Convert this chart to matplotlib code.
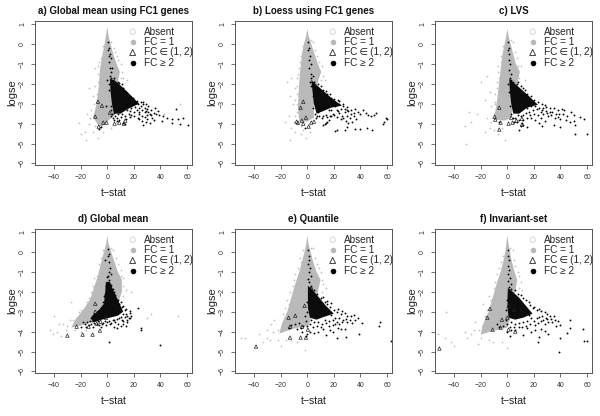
import numpy as np
import matplotlib
matplotlib.use('Agg')
import matplotlib.pyplot as plt

plt.rcParams['font.family'] = ['Liberation Sans', 'DejaVu Sans']

titles = ['a) Global mean using FC1 genes', 'b) Loess using FC1 genes', 'c) LVS',
          'd) Global mean', 'e) Quantile', 'f) Invariant-set']
legend_labels = ['Absent', 'FC = 1', 'FC\u2009\u2208\u2009(1,\u20092)', 'FC \u2265 2']
xticks = [-40, -20, 0, 20, 40, 60]
yticks = [1, 0, -1, -2, -3, -4, -5, -6]

# outlines of the dense FC = 1 clouds (t-stat, logse)
a_grey = [(0, .85), (1, .4), (2.5, 0), (4.5, -.5), (7, -1), (9.5, -1.4), (8, -1.9), (6, -2.4), (5, -3), (5, -3.6), (0, -3.9),
          (-5, -4.25), (-10.5, -3.7), (-8, -3), (-6.5, -2.2), (-5.5, -1.3), (-3.5, -.5), (-2, 0), (-.8, .5)]
b_grey = [(0, .75), (1, .4), (3, 0), (5.5, -.5), (8, -1), (10.5, -1.4), (8, -1.9), (6, -2.4), (5, -3), (5, -3.7), (0, -3.9),
          (-6, -3.9), (-7, -3.2), (-6.5, -2.4), (-5.5, -1.5), (-4, -.5), (-2.5, 0), (-.8, .4)]
c_grey = [(0, .75), (1, .4), (2.5, 0), (4.5, -.5), (6.5, -1), (9.5, -1.4), (8, -1.9), (6, -2.4), (4.5, -3), (3, -3.7), (-2, -3.85),
          (-10, -3.8), (-8, -3), (-6.5, -2.2), (-5, -1.3), (-3.5, -.5), (-2, 0), (-.8, .4)]
d_grey = [(0, .8), (1, .4), (3, 0), (5.5, -.5), (8, -1), (11, -1.4), (11, -2), (8, -2.6), (6, -3), (-10, -3.5), (-20, -3.7),
          (-27, -3.8), (-24, -3.4), (-18, -2.9), (-13, -2.4), (-10, -1.8), (-7, -1.2), (-4.5, -.5), (-2.5, 0), (-.8, .4)]
e_grey = [(0, .8), (1, .4), (2.5, 0), (4.5, -.5), (7, -1), (10, -1.4), (8, -2), (6, -2.5), (4, -3.1), (1, -3.7), (-10, -3.85),
          (-21, -4.1), (-19, -3.6), (-15, -3), (-12, -2.3), (-8.5, -1.5), (-6, -1), (-4, -.5), (-2, 0), (-.8, .4)]
f_grey = [(0, .8), (1, .4), (2, 0), (3.5, -.5), (5.5, -1), (7.5, -1.4), (6, -2), (4.5, -2.6), (3, -3.2), (0, -3.8), (-10, -3.95),
          (-20, -4.15), (-18, -3.6), (-14, -3), (-11, -2.3), (-7.5, -1.5), (-5, -1), (-3, -.5), (-1.5, 0), (-.7, .4)]

# outlines of the regions where FC >= 2 dots overplot completely
a_core = [(2, -1.75), (6, -1.85), (12, -2.2), (18, -2.6), (24, -3), (16, -3.25), (10, -3.5), (5, -3.5), (3.5, -3), (2.5, -2.4)]
b_core = [(3, -1.8), (6, -2), (12, -2.35), (18, -2.7), (26, -3.1), (18, -3.2), (11, -3.4), (7, -3.5), (5, -3), (4, -2.4)]
c_core = [(1.5, -1.75), (5, -1.95), (11, -2.3), (16, -2.6), (23, -3.05), (15, -3.2), (9, -3.5), (4.5, -3.5), (3, -3), (2, -2.4)]
d_core = [(-1, -1.5), (2, -1.5), (5, -2), (8, -2.4), (12, -3), (8, -3.2), (2, -3.3), (-4, -3.4), (-11, -3.55), (-12, -3.25),
          (-6, -2.9), (-2.5, -2.6), (-1.5, -2)]
e_core = [(.5, -1.7), (4, -1.9), (9, -2.3), (14, -2.7), (20, -3.1), (13, -3.25), (7, -3.4), (2, -3.3), (.5, -2.8), (.5, -2.3)]
f_core = [(.5, -1.8), (4, -2), (9, -2.3), (14, -2.7), (19, -3.1), (12, -3.3), (6, -3.4), (1, -3.3), (.2, -2.8), (.2, -2.3)]

# FC >= 2 dots
a_dots = [(.5, -.3), (1, -.2), (2, -.5), (2.5, -.7), (1.5, -.9), (2, -1.2), (3, -1.4), (2, -1.6), (3, -1.7), (.3, .1),
          (1, -.6), (3.5, -1.2), (4, -1.8), (5, -1.7), (8, -1.9), (12, -2.2), (14, -2.4), (17, -2.6), (19, -2.7),
          (21, -2.9), (23, -3), (25, -3.1), (28, -3.2), (30, -3.25), (33, -3.3), (36, -3.2), (37, -3.5), (39, -3.55),
          (42, -3.6), (41, -3.85), (45, -3.7), (49, -3.97), (49, -3.75), (53, -3.77), (57, -3.7), (61, -4.05), (55, -4.03),
          (51.5, -3.27), (18, -3.2), (20, -3.4), (22, -3.3), (24, -3.5), (26, -3.6), (28, -3.4), (30, -3.55), (32, -3.5),
          (34, -3.7), (26, -3.85), (27, -4.05), (29, -3.9), (32, -3.95), (35, -3.8), (15, -3.3), (16, -3.5), (13, -3.6),
          (11, -3.5), (8, -3.5), (6, -3.6), (4, -3.7), (9, -3.8), (13, -4), (12, -3.95), (5, -3.45), (7, -3.7), (19, -3),
          (22, -2.85), (25, -2.9), (27, -3), (3, -3.1), (3.5, -3.5), (15, -3), (17, -3.35), (24, -3.2), (31, -3.1), (-6, -4.25), (-5, -4.15),
          (20, -3.6), (23, -3.7), (18, -3.55), (21, -3.15), (26, -3.3), (29, -3.35), (31, -3.4), (33, -3.55), (35, -3.45), (38, -3.35),
          (15, -2.45), (11, -2), (9, -1.95), (24, -3.4), (14, -3.75), (10, -3.65), (7, -3.85), (5, -3.8), (3, -3.6), (2.5, -3.3),
          (17, -3.65), (28, -3.65), (30, -3.75), (24, -3.75), (27, -2.9), (29, -3), (-1, -3.1), (1, -2.3), (1.5, -2), (0, -1.8)]
b_dots = [(.3, .1), (.5, -.3), (1.5, -.2), (2, -.6), (1, -.8), (2.5, -1), (1.5, -1.2), (3, -1.5), (3, -1.7), (4, -1.6), (5, -1.9),
          (8, -2), (12, -2.3), (15, -2.5), (18, -2.7), (21, -2.9), (24, -3), (27, -3.1), (30, -3.15), (33, -3.3), (36, -3.25),
          (38, -3.4), (40, -3.5), (42, -3.3), (44, -3.45), (46, -3.55), (48, -3.6), (50, -3.55), (52, -3.45), (58, -3.9),
          (59, -3.7), (60, -3.75), (57, -4), (22, -3.3), (24, -3.45), (26, -3.6), (28, -3.4), (30, -3.6), (32, -3.7),
          (29, -3.85), (34, -3.9), (37, -3.75), (40, -4.25), (45, -4.2), (49, -4.3), (36, -4.25), (30, -4.15), (28, -4.3),
          (22, -4.3), (21, -4.35), (15, -3.9), (14, -3.95), (13, -4), (12, -4.05), (16, -3.8), (18, -3.6), (11, -3.7), (8, -3.4),
          (6, -3.5), (16, -3.3), (18, -3.3), (21, -3.1), (24, -2.85), (27, -3), (6.5, -3.7), (19, -3.5), (-1.5, -4.2),
          (20, -3.55), (23, -3.35), (25, -3.25), (28, -3.25), (31, -3.35), (33, -3.5), (35, -3.45), (17, -3.6), (14, -3.55), (12, -3.6),
          (9, -3.6), (7, -3.6), (22, -3.65), (25, -3.75), (31, -3.95), (35, -3.6), (10, -2.1), (14, -2.35), (17, -2.5), (20, -2.75),
          (23, -2.8), (2, -1.9), (3, -2.1), (4, -2.6), (4.5, -3.2), (27, -3.7), (30, -3.3), (15, -3.65)]
c_dots = [(.3, .1), (.5, -.3), (1, -.2), (1.5, -.5), (1, -.8), (2, -1), (1.5, -1.3), (2.5, -1.5), (2, -1.7), (3, -1.8), (4, -1.9),
          (7, -2), (10, -2.1), (13, -2.3), (15, -2.5), (18, -2.6), (20, -2.8), (23, -2.9), (26, -3), (29, -3.15), (32, -3.2),
          (35, -3.2), (38, -3.3), (41, -3.25), (42, -3.5), (45, -3.6), (48, -3.4), (50, -3.55), (55, -3.65), (58, -3.75),
          (50, -3.85), (51, -4.05), (60, -4.5), (51, -4.5), (40, -4.15), (35, -4.05), (28, -3.85), (24, -3.95), (21, -3.8),
          (18, -3.7), (16, -3.4), (19, -3.3), (22, -3.25), (25, -3.4), (27, -3.5), (30, -3.45), (33, -3.55), (36, -3.7),
          (38, -3.65), (40, -3.75), (44, -3.8), (47, -3.9), (14, -3.45), (12, -3.55), (10, -3.6), (8, -3.55), (6, -3.7),
          (4, -3.7), (18, -3.1), (21, -3.1), (15, -4.15), (12, -4.05), (11, -3.95), (9, -4.3), (10, -4.1), (26, -4.1), (15, -3.2), (-6, -3.9),
          (20, -3.5), (23, -3.55), (26, -3.3), (29, -3.35), (31, -3.6), (34, -3.4), (37, -3.5), (25, -3.7), (17, -3.55), (15, -3.7),
          (12, -3.8), (9, -3.8), (7, -3.9), (5, -3.9), (2.5, -3.5), (2, -3.1), (1, -2.4), (.5, -2), (8, -1.9), (12, -2.2),
          (28, -3.05), (32, -3.4), (24, -3.2), (27, -3.2), (39, -3.5), (43, -3.3)]
d_dots = [(.3, .15), (.5, -.2), (1, -.1), (-1.5, -.4), (1, -.5), (2, -.8), (1, -1), (2.5, -1.1), (.5, -1.2), (0, -1.25), (1.5, -1.4),
          (1, -1.6), (-1, -1.7), (5, -2), (8, -2.4), (10, -2.5), (12, -2.7), (14, -2.85), (17, -2.95), (17, -3.05), (18, -3.2),
          (23, -2.8), (13, -3.25), (11, -3.4), (16, -3.3), (15, -3.5), (12, -3.6), (10, -3.7), (8, -3.6), (6, -3.5), (4, -3.4),
          (2, -3.6), (0, -3.5), (-2, -3.45), (-4, -3.6), (-6, -3.65), (-8, -3.6), (-10, -3.55), (-12, -3.6), (-14, -3.65),
          (-11, -3.75), (-15, -3.5), (25, -3.8), (25, -3.9), (40, -4.65), (1, -4.5), (-5, -3.75), (5, -3.75), (7, -3.8),
          (9, -3.3), (-12, -3.3), (-10, -3.1), (-7, -2.95), (-3, -2.5), (-1.5, -2.1), (12, -3.1), (14, -3.1), (15, -3.2), (17, -3.3),
          (-3, -3.55), (1, -3.45), (3, -3.55), (5, -3.4), (7, -3.35), (10, -3.25), (-1, -3.65), (-7, -3.45), (-9, -3.4), (-13, -3.45),
          (-17, -3.6), (-20, -3.75), (-16, -3.75), (-18, -3.5), (-4.5, -2.8), (-3, -2.9), (-2.5, -2.2), (6, -2.15), (9, -2.6), (13, -2.9),
          (11, -2.75), (15, -3.4), (4, -1.85), (3, -1.65), (12, -3.45), (14, -3.7)]
e_dots = [(.3, .1), (1, -.2), (1.5, -.4), (.5, -.6), (2, -.8), (1, -1), (2.5, -1.2), (.5, -1.35), (1.5, -1.5), (3, -1.7), (2, -1.8),
          (5, -1.9), (7, -2.1), (10, -2.3), (13, -2.5), (15, -2.6), (17, -2.75), (20, -2.9), (22, -3), (25, -3.1), (28, -3.05),
          (30, -3.2), (33, -3.2), (36, -3.4), (34, -3.55), (30, -3.5), (27, -3.4), (24, -3.3), (21, -3.3), (19, -3.4), (16, -3.45),
          (14, -3.55), (11, -3.6), (8, -3.5), (5, -3.5), (2, -3.6), (0, -3.7), (-3, -3.7), (-6, -3.55), (-9, -3.6), (-12, -3.65),
          (-14, -3.8), (2, -4), (0, -4.1), (-1, -4.2), (5, -4.05), (8, -4), (12, -3.85), (17, -3.9), (19, -4), (25, -3.85), (28, -3.85),
          (39, -4.1), (41, -3.55), (55, -3.5), (54, -3.7), (63, -4.45), (29, -4.25), (22, -4.3), (24, -3.6), (18, -3.15), (21, -3.6),
          (14, -4.15), (-4, -4),
          (3, -3.4), (-1, -3.45), (-2, -3.2), (7, -3.7), (10, -3.75), (13, -3.4), (16, -3.7), (19, -3.65), (22, -3.5), (26, -3.5),
          (29, -3.35), (32, -3.4), (23, -3.8), (35, -3.15), (38, -3.3), (-.5, -2.5), (-.5, -3), (12, -2.25), (15, -2.45), (18, -2.55),
          (23, -2.85), (26, -2.95), (-5, -3.8), (-8, -3.85), (4, -3.75)]
f_dots = [(.3, .1), (.8, -.2), (1.5, -.4), (.5, -.7), (1.5, -.9), (.5, -1.1), (2, -1.3), (.5, -1.45), (2.5, -1.6), (1, -1.75),
          (3, -1.85), (6, -1.9), (8, -2.1), (12, -2.3), (14, -2.4), (17, -2.65), (19, -2.8), (22, -2.9), (25, -2.95), (28, -3),
          (30, -3.1), (32, -3.2), (36, -3.4), (34, -3.5), (31, -3.5), (28, -3.6), (25, -3.45), (22, -3.3), (20, -3.45), (18, -3.3),
          (15, -3.45), (12, -3.5), (9, -3.55), (6, -3.6), (3, -3.5), (0, -3.6), (-3, -3.7), (-6, -3.75), (-8, -3.6), (0, -4),
          (2, -4.2), (3, -3.9), (6, -3.9), (11, -3.75), (15, -3.8), (18, -4), (21, -3.9), (25, -3.85), (28, -3.95), (31, -4.1),
          (37, -3.7), (40, -3.65), (47, -3.4), (47, -3.8), (57, -3.85), (45, -4.05), (58, -4.45), (60, -4.45), (40, -4.3),
          (24, -4.25), (23, -4.5), (12, -4.15), (39, -5), (16, -3.15), (24, -3.25), (27, -3.4),
          (21, -3.65), (23, -3.55), (17, -3.6), (14, -3.7), (9, -3.75), (5, -3.75), (2, -3.75), (-1, -3.4), (-1, -2.9), (-.5, -2.4),
          (10, -2.15), (16, -2.5), (20, -2.75), (24, -2.85), (29, -3.3), (33, -3.35), (26, -3.2), (30, -3.35), (35, -3.2), (38, -3.45)]

# open triangles, FC between 1 and 2
a_tri = [(-6.5, -4.15), (-9, -3.65), (-7, -2.9), (-3, -3.95), (5.5, -4), (12.5, -4), (13.5, -3.85), (-.5, -3.95), (2, -3.45), (-4, -3.1), (9, -3.95)]
b_tri = [(-7, -3.95), (-4, -3.85), (-3, -4), (-1, -3.7), (3, -3.95), (-5, -3.2), (1, -4.15), (-8, -3.9), (5, -3.9), (-3, -2.9)]
c_tri = [(-9, -3.8), (-6, -4.3), (-5, -3.95), (1, -4), (4, -3.95), (7, -3.85), (11, -4.05), (11, -3.75), (-6, -3.2), (-9.5, -3.65), (3, -3.7)]
d_tri = [(-30, -4.2), (-18.5, -4.15), (-11, -4.15), (-5.5, -3.95), (-23, -3.75), (-14, -3.75), (-8, -3.6), (-5, -3.5), (-9, -3), (-9, -2.6), (-1, -3.3)]
e_tri = [(-38.5, -4.75), (-14, -3.3), (-13, -4.3), (-13, -3.75), (-1, -4.3), (-5, -4.3), (-4, -3.75), (-9, -3.2), (-2, -2.7), (3, -1.8), (.5, -3.9)]
f_tri = [(-51, -4.85), (-15, -3.3), (-11, -3.9), (-4, -3.4), (1, -3.9), (6, -4), (0, -3.3), (-5, -3.8), (-13, -2.85), (1, -2.7), (5, -2.9)]

# isolated Absent points
a_absent = [(-21, -3.95), (-20, -4.5), (-17, -4.4), (-16, -4.8), (-13, -3.7), (-11, -4.4), (-7, -4.7), (-9, -2.1), (-14, -2.2),
            (-11, -2.6), (-7, -1.9), (-7, -1.5), (-6, -.9), (5, -.2), (7, -.6), (11, -1.4), (12, -1.7), (15, -1.8), (-12, -3.3), (-14, -4),
            (-9, -4.1), (-3, -4.4), (55, -3), (43, -3.5), (3, -4.2), (-10, -3), (-8, -2.5), (-9, -1.2), (-10, -3.5), (-15, -3.5),
            (-8, -2.8), (-7, -1.1), (-5, -.7), (-3, -.1), (3, .1), (6, -.4), (8, -.8), (10, -1), (10, -1.7), (9, -2.1)]
b_absent = [(-15, -1.9), (-12, -1.7), (-13, -2.6), (-11, -3), (-17, -3.9), (-10, -3.9), (-12, -4.2), (-9, -4.4), (-5, -4.5), (-3, -4.3), (-13, -4.8),
            (-1, -4.7), (2, -4.4), (-9, -2.2), (-8, -1.7), (-6.5, -1.2), (-5, -.6), (4, .1), (6, -.3), (9, -.9), (11, -1.1), (12, -1.6), (13, -1.8),
            (-8, -3), (-9, -3.6), (-8, -4), (-9, -2.8), (-14, -3.6), (-5, -4.1), (1, -4.1),
            (-8, -2.5), (-7, -1.5), (-5.5, -.9), (-3.5, -.1), (3, .2), (7, -.6), (9, -1.4), (10, -1.8), (-7.5, -3.4), (-7.5, -2.1)]
c_absent = [(-20, -1.9), (-15, -1.6), (-13, -2.4), (-17, -2.8), (-12, -3.1), (-29, -3.4), (-32, -4.1), (-27, -3.9), (-23, -3.5), (-31, -5), (-17, -4.4), (-13, -4.2),
            (-10, -4.3), (-7, -4.5), (-4, -4.2), (-2, -4.8), (-9, -2.5), (-8, -1.9), (-7, -1.4), (-5, -.9), (4, .1), (5.5, -.4), (8, -1.1), (10, -1.1), (13, -1.8),
            (-10, -3.5), (-15, -3.7), (-9, -3), (-9, -2.9), (-12, -3.9),
            (-7, -1.1), (-4.5, -.6), (-3, -.1), (3, .2), (7, -.7), (9, -1.7), (-8, -2.2), (-6, -1.7)]
d_absent = [(-40, -3.2), (-43, -3.9), (-41, -4.1), (-38, -4), (-35, -4.2), (-36, -3.6), (-31, -3.9), (-28, -3.4), (-27, -2.5), (-21, -3), (-24, -3.9), (-20, -4), (-16, -3.9),
            (-14, -2.3), (-12, -2), (-8, -1.2), (-6, -.6), (4, .1), (6.5, -.3), (10, -.9), (12, -1.3), (14, -1.9), (18, -2), (33, -3.1), (30, -3.3), (53, -3.2),
            (-30, -3.7), (-33, -3.6), (-26, -3.4), (-18, -3.3), (-13, -3), (-11, -1.7),
            (-20, -2.9), (-15, -2.5), (-10, -1.3), (-5, -.3), (-3, .1), (3, .2), (8, -.6), (10, -1.2), (12, -1.7), (12, -2.2)]
e_absent = [(-50, -4.3), (-47, -4.3), (-36, -4.1), (-33, -4.5), (-30, -4.3), (-30, -3.9), (-26, -4), (-27, -3.6), (-25, -3.4), (-22, -4.4), (-20, -4.7), (-19, -3.7),
            (-15, -2.4), (-13, -2), (-10, -1.4), (-7, -.8), (-5.5, -.3), (4, .2), (6, -.3), (9, -.8), (11, -1.4), (14, -1.8), (-16, -4.4), (-12, -4.4), (-8, -4.5), (-2, -4.9),
            (-18, -3.1), (-22, -3.9), (-17, -2.8), (-13, -3.3), (-28, -4.4), (-16, -3.4),
            (-14, -2.6), (-11, -1.7), (-9, -1.1), (-5, -.5), (-3, .1), (3, .2), (7, -.6), (10, -1), (12, -1.6), (11, -2)]
f_absent = [(-52, -4.1), (-47, -4.3), (-46, -3), (-42, -4.5), (-40, -4.7), (-30, -4.3), (-27, -4.1), (-25, -3.9), (-24, -3.5), (-22, -4.6), (-20, -4.3), (-19, -3.7),
            (-18, -2.6), (-14, -2.2), (-10, -1.8), (-8, -1.1), (-5, -.5), (4, .1), (5, -.4), (8, -1), (10, -1.5), (11, -1.9), (-14, -4.4), (-11, -4.5), (-4, -4.5), (0, -4.8),
            (-17, -3.2), (-21, -3.9), (-15, -2.9), (-14, -3.4), (-32, -4), (-15, -3.7),
            (-12, -2.4), (-9, -1.5), (-6, -.8), (-3, -.2), (2, .2), (6, -.7), (9, -1.2), (9, -1.8)]

panels = [(a_grey, a_core, a_dots, a_tri, a_absent), (b_grey, b_core, b_dots, b_tri, b_absent),
          (c_grey, c_core, c_dots, c_tri, c_absent), (d_grey, d_core, d_dots, d_tri, d_absent),
          (e_grey, e_core, e_dots, e_tri, e_absent), (f_grey, f_core, f_dots, f_tri, f_absent)]

W, H = 600, 416
fig = plt.figure(figsize=(W/100, H/100), dpi=100)

for i in range(6):
    grey, core, dots, tri, absent = panels[i]
    x0 = 35 + 200*(i % 3)
    top = 20.7 + 208*(i // 3)
    ax = fig.add_axes([x0/W, 1 - (top + 144.3)/H, 157/W, 144.3/H])

    # Plot the clouds back to front
    ax.scatter(*zip(*absent), s=1.6, color='#c0c0c0', linewidths=0)
    ax.fill(*zip(*grey), color='#b9b9b9', lw=0)
    ax.fill(*zip(*core), color='#0c0c0c', lw=0)
    ax.scatter(*zip(*tri), s=6, marker='^', facecolors='none', edgecolors='#222222', linewidths=.5)
    ax.scatter(*zip(*dots), s=1.8, color='k', linewidths=0)

    # Format the plot aesthetics
    ax.set_xlim(-54.3, 63.7)
    ax.set_ylim(-6.08, 1.17)
    ax.set_xticks(xticks)
    ax.set_xticklabels([str(t).replace('-', '\u2212') for t in xticks], fontsize=5, color='#333333')
    ax.set_yticks(yticks)
    ax.set_yticklabels([str(t).replace('-', '\u2212') for t in yticks], fontsize=5, rotation=90, va='center', color='#333333')
    ax.tick_params(axis='both', length=3, width=.5, pad=3.5, color='#333333')
    for s in ax.spines.values():
        s.set_linewidth(.7)
        s.set_color('#555555')
    ax.set_xlabel('t\u2212stat', fontsize=7.6, labelpad=5, color='#222222')
    ax.set_ylabel('logse', fontsize=8, labelpad=1.5, color='#222222')
    ax.set_title(titles[i], fontsize=7.0, fontweight='bold', pad=5, color='#111111')

    ys = [.923, .854, .78, .704]
    ax.scatter([.622], [ys[0]], s=16, transform=ax.transAxes, facecolors='none', edgecolors='#d8d8d8', linewidths=.7)
    ax.scatter([.622], [ys[1]], s=16, transform=ax.transAxes, color='#b9b9b9', linewidths=0)
    ax.scatter([.622], [ys[2]], s=18, transform=ax.transAxes, marker='^', facecolors='none', edgecolors='#222222', linewidths=.6)
    ax.scatter([.622], [ys[3]], s=16, transform=ax.transAxes, color='k', linewidths=0)
    for y, lab in zip(ys, legend_labels):
        ax.text(.695, y, lab, transform=ax.transAxes, fontsize=7.2, va='center', color='#222222')

fig.savefig('out.png', dpi=100)
